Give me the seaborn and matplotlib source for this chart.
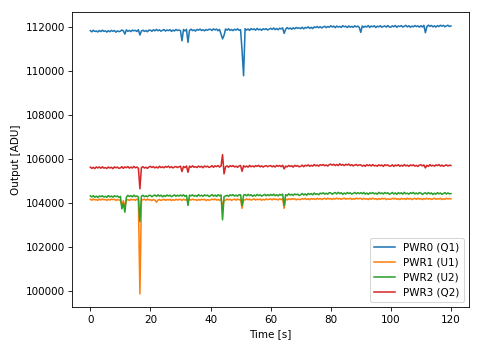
import numpy as np
import pandas as pd
import matplotlib
matplotlib.use("Agg")
import matplotlib.pyplot as plt
import seaborn as sns

# Sample times (0.5 s cadence over the two-minute run)
time_s = np.arange(0, 120.5, 0.5)

series_labels = ["PWR0 (Q1)", "PWR1 (U1)", "PWR2 (U2)", "PWR3 (Q2)"]
series_colors = ["#1f77b4", "#ff7f0e", "#2ca02c", "#d62728"]

pwr0_q1 = [
    111855, 111800, 111870, 111815, 111840, 111795, 111860, 111810, 111875, 111820,
    111845, 111790, 111850, 111805, 111865, 111825, 111860, 111785, 111840, 111810,
    111830, 111885, 111840, 111700, 111890, 111825, 111865, 111810, 111880, 111845,
    111870, 111815, 111895, 111655, 111835, 111875, 111820, 111860, 111805, 111880,
    111875, 111825, 111895, 111845, 111910, 111850, 111890, 111830, 111870, 111905,
    111835, 111885, 111855, 111900, 111820, 111880, 111840, 111905, 111860, 111885,
    111850, 111395, 111905, 111840, 111915, 111320, 111865, 111920, 111855, 111890,
    111835, 111910, 111875, 111925, 111860, 111895, 111845, 111905, 111870, 111915,
    111915, 111860, 111935, 111885, 111925, 111850, 111910, 111700, 111480, 111640,
    111930, 111875, 111940, 111865, 111905, 111855, 111920, 111880, 111935, 111870,
    111895, 110940, 109805, 111945, 111880, 111930, 111865, 111950, 111900, 111935,
    111875, 111955, 111890, 111925, 111870, 111940, 111905, 111945, 111885, 111920,
    111960, 111912, 111974, 111900, 111952, 111894, 111966, 111932, 111979, 111730,
    111918, 111994, 111936, 111973, 111915, 111986, 111933, 112000, 111957, 111983,
    111945, 112008, 111936, 111999, 111972, 112029, 111957, 112005, 111948, 112026,
    111994, 112042, 111985, 112033, 111976, 112023, 112051, 111989, 112042, 112010,
    112075, 112020, 112060, 111990, 112065, 112015, 112045, 112000, 112080, 112030,
    112055, 111995, 112070, 112010, 112050, 112005, 112075, 112025, 112060, 112000,
    111775, 112070, 112005, 112055, 112020, 112085, 112000, 112065, 112030, 112075,
    111995, 112060, 112025, 112080, 112010, 112045, 112070, 112015, 112085, 112020,
    112013, 112073, 112033, 112088, 112003, 112068, 112043, 112083, 112018, 112058,
    112093, 112023, 112078, 112008, 112063, 112028, 112088, 112038, 112073, 112013,
    112080, 112020, 112095, 111760, 112035, 112105, 112050, 112090, 112025, 112075,
    112015, 112085, 112040, 112100, 112055, 112095, 112030, 112070, 112100, 112045,
    112070,
]

pwr1_u1 = [
    104185, 104140, 104195, 104155, 104170, 104135, 104190, 104150, 104195, 104160,
    104175, 104135, 104180, 104145, 104190, 104165, 104185, 104135, 104170, 104150,
    104145, 103900, 104120, 103850, 104140, 104170, 104130, 104180, 104155, 104175,
    104135, 104190, 104150, 99880, 104130, 104165, 104185, 104140, 104190, 104150,
    104165, 104125, 104175, 104140, 104050, 104145, 104175, 104130, 104160, 104185,
    104135, 104170, 104150, 104180, 104125, 104165, 104135, 104185, 104150, 104170,
    104180, 104135, 104190, 104150, 104165, 104130, 104185, 104145, 104190, 104155,
    104170, 104130, 104175, 104140, 104185, 104160, 104180, 104130, 104165, 104145,
    104150, 104190, 104160, 104195, 104145, 104175, 104135, 104185, 103900, 104130,
    104140, 104195, 104155, 104185, 104135, 104170, 104190, 104145, 104195, 104155,
    104180, 103770, 104150, 104155, 104200, 104160, 104190, 104145, 104175, 104200,
    104150, 104185, 104165, 104195, 104140, 104180, 104150, 104200, 104165, 104185,
    104202, 104157, 104212, 104172, 104187, 104152, 104207, 104167, 104212, 103770,
    104197, 104157, 104202, 104167, 104212, 104187, 104207, 104157, 104192, 104172,
    104175, 104216, 104187, 104222, 104173, 104204, 104165, 104215, 104191, 104212,
    104173, 104228, 104189, 104220, 104171, 104206, 104227, 104183, 104234, 104194,
    104215, 104175, 104225, 104190, 104235, 104195, 104225, 104180, 104210, 104235,
    104185, 104220, 104200, 104230, 104175, 104215, 104185, 104235, 104200, 104220,
    104220, 104175, 104230, 104190, 104205, 104170, 104225, 104185, 104230, 104195,
    104210, 104170, 104215, 104180, 104225, 104200, 104220, 104170, 104205, 104185,
    104185, 104225, 104195, 104230, 104180, 104210, 104170, 104220, 104195, 104215,
    104175, 104230, 104190, 104220, 104170, 104205, 104225, 104180, 104230, 104190,
    104210, 104170, 104220, 104185, 104230, 104190, 104220, 104175, 104205, 104230,
    104180, 104215, 104195, 104225, 104170, 104210, 104180, 104230, 104195, 104215,
    104202,
]

pwr2_u2 = [
    104338, 104288, 104348, 104273, 104323, 104263, 104333, 104298, 104343, 104283,
    104318, 104268, 104353, 104293, 104328, 104278, 104343, 104303, 104333, 104268,
    104315, 103750, 104000, 103595, 104280, 104360, 104310, 104350, 104290, 104370,
    104305, 104335, 104285, 103170, 104320, 104365, 104300, 104340, 104295, 104360,
    104360, 104300, 104350, 104375, 104315, 104385, 104325, 104370, 104295, 104355,
    104310, 104380, 104330, 104365, 104305, 104345, 104380, 104320, 104370, 104325,
    104378, 104328, 104388, 104313, 104363, 103900, 104373, 104338, 104383, 104323,
    104358, 104308, 104393, 104333, 104368, 104318, 104383, 104343, 104373, 104308,
    104345, 104395, 104325, 104375, 104310, 104390, 104340, 104380, 103250, 104300,
    104335, 104365, 104315, 104385, 104350, 104395, 104330, 104370, 104325, 104390,
    104382, 103900, 104372, 104397, 104337, 104407, 104347, 104392, 104317, 104377,
    104332, 104402, 104352, 104387, 104327, 104367, 104402, 104342, 104392, 104347,
    104405, 104356, 104417, 104343, 104394, 104335, 104406, 104372, 104418, 103900,
    104395, 104346, 104432, 104373, 104409, 104360, 104426, 104387, 104418, 104354,
    104390, 104443, 104375, 104428, 104365, 104448, 104400, 104443, 104385, 104468,
    104405, 104438, 104390, 104463, 104430, 104478, 104415, 104458, 104415, 104483,
    104472, 104412, 104462, 104487, 104427, 104497, 104437, 104482, 104407, 104467,
    104422, 104492, 104442, 104477, 104417, 104457, 104492, 104432, 104482, 104437,
    104483, 104433, 104493, 104418, 104468, 104408, 104478, 104443, 104488, 104428,
    104463, 104413, 104498, 104438, 104473, 104423, 104488, 104448, 104478, 104413,
    104442, 104492, 104422, 104472, 104407, 104487, 104437, 104477, 104417, 104497,
    104432, 104462, 104412, 104482, 104447, 104492, 104427, 104467, 104422, 104487,
    104463, 104403, 104453, 104478, 104418, 104488, 104428, 104473, 104398, 104458,
    104413, 104483, 104433, 104468, 104408, 104448, 104483, 104423, 104473, 104428,
    104442,
]

pwr3_q2 = [
    105645, 105590, 105635, 105580, 105655, 105610, 105650, 105595, 105660, 105600,
    105625, 105585, 105650, 105605, 105640, 105575, 105655, 105615, 105645, 105590,
    105610, 105665, 105590, 105655, 105620, 105670, 105600, 105645, 105605, 105675,
    105615, 105650, 105595, 104660, 105625, 105665, 105605, 105640, 105590, 105650,
    105680, 105630, 105670, 105610, 105655, 105605, 105685, 105625, 105660, 105615,
    105675, 105640, 105690, 105620, 105665, 105610, 105650, 105675, 105625, 105660,
    105687, 105445, 105677, 105622, 105697, 105410, 105692, 105637, 105702, 105642,
    105667, 105627, 105692, 105647, 105682, 105617, 105697, 105657, 105687, 105632,
    105658, 105713, 105638, 105703, 105668, 105718, 105648, 105693, 106215, 105340,
    105663, 105698, 105643, 105708, 105673, 105713, 105653, 105688, 105638, 105698,
    105719, 105455, 105709, 105649, 105694, 105644, 105724, 105664, 105699, 105654,
    105714, 105679, 105729, 105659, 105704, 105649, 105689, 105714, 105664, 105699,
    105715, 105660, 105705, 105650, 105725, 105680, 105720, 105665, 105730, 105565,
    105695, 105655, 105720, 105675, 105710, 105645, 105725, 105685, 105715, 105660,
    105680, 105737, 105664, 105731, 105698, 105750, 105682, 105729, 105691, 105763,
    105705, 105742, 105689, 105756, 105723, 105765, 105707, 105744, 105696, 105758,
    105780, 105735, 105775, 105717, 105765, 105716, 105795, 105732, 105765, 105718,
    105775, 105737, 105785, 105713, 105757, 105701, 105740, 105764, 105713, 105747,
    105747, 105692, 105737, 105682, 105757, 105712, 105752, 105697, 105762, 105702,
    105727, 105687, 105752, 105707, 105742, 105677, 105757, 105717, 105747, 105692,
    105696, 105751, 105676, 105741, 105706, 105756, 105686, 105731, 105691, 105761,
    105701, 105736, 105681, 105746, 105711, 105751, 105691, 105726, 105676, 105736,
    105753, 105703, 105743, 105610, 105728, 105678, 105758, 105698, 105733, 105688,
    105748, 105713, 105763, 105693, 105738, 105683, 105723, 105748, 105698, 105733,
    105720,
]

channels = [pwr0_q1, pwr1_u1, pwr2_u2, pwr3_q2]

fig = plt.figure(figsize=(6.4, 347 / 75), dpi=75)
ax = fig.add_axes([0.1506, 0.1144, 0.977 - 0.1506, 0.9663 - 0.1144])

for values, label, color in zip(channels, series_labels, series_colors):
    df = pd.DataFrame({"time": time_s, "output": values})
    sns.lineplot(data=df, x="time", y="output", ax=ax, color=color,
                 label=label, linewidth=1.5, estimator=None, sort=False)

ax.set_xlabel("Time [s]")
ax.set_ylabel("Output [ADU]")
ax.legend(loc="lower right")

fig.savefig("out.png", dpi=75)
